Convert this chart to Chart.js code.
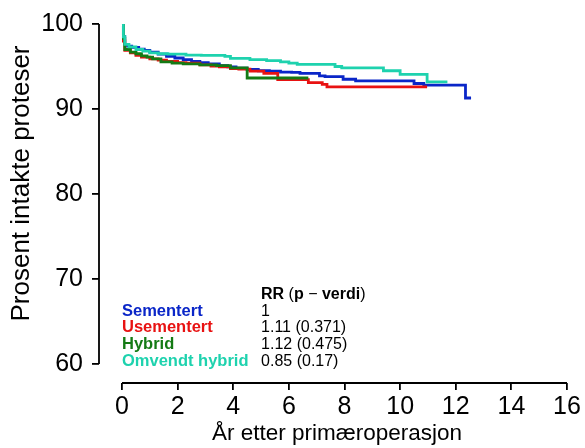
<!DOCTYPE html>
<html>
<head>
<meta charset="utf-8">
<script src="https://cdn.jsdelivr.net/npm/chart.js@4.4.1/dist/chart.umd.min.js"></script>
<style>
  html, body { margin: 0; padding: 0; background: #fff; }
</style>
</head>
<body>
<canvas id="km" width="585" height="448"></canvas>
<script>
const FONT = '"Liberation Sans", Arial, Helvetica, sans-serif';

// group names and the risk ratio column of the legend
const groups = ['Sementert', 'Usementert', 'Hybrid', 'Omvendt hybrid'];
const rrText = ['1', '1.11 (0.371)', '1.12 (0.475)', '0.85 (0.17)'];

// Kaplan-Meier steps (years, percent intact)
const sementertT = [0, 0.05, 0.1, 0.2, 0.35, 0.6, 0.8, 1.0, 1.3, 1.6, 1.9, 2.2, 2.5, 2.8, 3.1, 3.5, 3.8, 4.1, 4.5, 4.9, 5.3, 5.7, 6.1, 6.4, 7.1, 7.3, 7.95, 8.4, 10.5, 10.85, 12.35, 12.55];
const sementertS = [100, 98.5, 97.6, 97.4, 97.25, 97.05, 96.9, 96.7, 96.45, 96.2, 96.0, 95.8, 95.6, 95.45, 95.3, 95.1, 94.95, 94.8, 94.65, 94.5, 94.45, 94.35, 94.3, 94.2, 93.9, 93.8, 93.5, 93.3, 93.0, 92.8, 91.3, 91.3];

const usementertT = [0, 0.05, 0.1, 0.3, 0.5, 0.7, 1.0, 1.3, 1.6, 2.0, 2.3, 2.8, 3.2, 3.5, 3.9, 4.2, 4.6, 5.1, 5.6, 6.7, 7.2, 7.37, 10.97];
const usementertS = [100, 98, 96.9, 96.6, 96.3, 96.1, 95.9, 95.75, 95.6, 95.45, 95.4, 95.2, 95.05, 94.95, 94.75, 94.7, 94.45, 94.2, 93.45, 93.1, 92.9, 92.6, 92.6];

const hybridT = [0, 0.05, 0.1, 0.3, 0.5, 0.7, 0.9, 1.1, 1.4, 1.8, 2.2, 2.8, 3.4, 3.9, 4.5, 6.7];
const hybridS = [100, 98.3, 97.0, 96.7, 96.5, 96.25, 96.1, 95.9, 95.55, 95.4, 95.3, 95.2, 95.1, 94.85, 93.65, 93.65];

const omvendtT = [0, 0.05, 0.1, 0.25, 0.5, 0.75, 1.0, 1.3, 1.65, 2.3, 2.85, 3.7, 3.9, 4.6, 5.2, 5.7, 6.0, 6.3, 7.66, 7.9, 9.4, 10.0, 10.97, 11.7];
const omvendtS = [100, 98.5, 97.6, 97.3, 97.0, 96.8, 96.6, 96.5, 96.45, 96.35, 96.3, 96.2, 95.95, 95.8, 95.7, 95.55, 95.4, 95.25, 95.0, 94.85, 94.5, 94.07, 93.2, 93.2];

const xTicks = [0, 2, 4, 6, 8, 10, 12, 14, 16];
const yTicks = [60, 70, 80, 90, 100];

const xTitle = 'År etter primæroperasjon';
const yTitle = 'Prosent intakte proteser';

const colors = ['#0a26c8', '#e81212', '#147a14', '#1ed2ae'];

function toPoints(t, s) {
  return t.map((x, i) => ({ x: x, y: s[i] }));
}

const series = [
  toPoints(sementertT, sementertS),
  toPoints(usementertT, usementertS),
  toPoints(hybridT, hybridS),
  toPoints(omvendtT, omvendtS)
];

// R style detached axes: lines only between first and last tick, plus titles
const axisLines = {
  id: 'axisLines',
  afterDraw(chart) {
    const { ctx, chartArea, scales: { x, y } } = chart;
    ctx.save();
    ctx.strokeStyle = '#000';
    ctx.lineWidth = 1.8;
    ctx.beginPath();
    ctx.moveTo(chartArea.left, y.getPixelForValue(yTicks[0]));
    ctx.lineTo(chartArea.left, y.getPixelForValue(yTicks[yTicks.length - 1]));
    ctx.moveTo(x.getPixelForValue(xTicks[0]), chartArea.bottom);
    ctx.lineTo(x.getPixelForValue(xTicks[xTicks.length - 1]), chartArea.bottom);
    ctx.stroke();

    ctx.fillStyle = '#000';
    ctx.textAlign = 'center';
    ctx.textBaseline = 'middle';
    ctx.font = '22.5px ' + FONT;
    ctx.fillText(xTitle, (chartArea.left + chartArea.right) / 2 + 4, chart.height - 14);

    ctx.translate(22, (chartArea.top + chartArea.bottom) / 2 - 20);
    ctx.rotate(-Math.PI / 2);
    ctx.font = '26px ' + FONT;
    ctx.fillText(yTitle, 0, 0);
    ctx.restore();
  }
};

// legend as a little table in the lower left
const rrTable = {
  id: 'rrTable',
  afterDraw(chart) {
    const { ctx, scales: { x, y } } = chart;
    const col1 = x.getPixelForValue(0);
    const col2 = x.getPixelForValue(5);
    const lastRow = y.getPixelForValue(60) - 3;
    const step = 16.6;
    ctx.save();
    ctx.textBaseline = 'middle';
    ctx.textAlign = 'left';

    // header: RR (p - verdi)
    let hx = col2;
    const hy = lastRow - step * 4;
    const parts = [['RR ', 'bold'], ['(', 'normal'], ['p', 'bold'], [' \u2212 ', 'normal'], ['verdi', 'bold'], [')', 'normal']];
    ctx.fillStyle = '#000';
    parts.forEach(([txt, w]) => {
      ctx.font = w + ' 16px ' + FONT;
      ctx.fillText(txt, hx, hy);
      hx += ctx.measureText(txt).width;
    });

    groups.forEach((g, i) => {
      const ry = lastRow - step * (3 - i);
      ctx.font = 'bold 16.5px ' + FONT;
      ctx.fillStyle = colors[i];
      ctx.fillText(g, col1, ry);
      ctx.font = '16px ' + FONT;
      ctx.fillStyle = '#000';
      ctx.fillText(rrText[i], col2, ry);
    });
    ctx.restore();
  }
};

new Chart(document.getElementById('km'), {
  type: 'line',
  data: {
    datasets: groups.map((g, i) => ({
      label: g,
      data: series[i],
      borderColor: colors[i],
      borderWidth: 2.8,
      pointRadius: 0,
      stepped: true,
      fill: false,
      order: 3 - i
    }))
  },
  options: {
    responsive: false,
    animation: false,
    layout: { padding: { top: 22, right: 18, bottom: 0, left: 0 } },
    plugins: { legend: { display: false }, tooltip: { enabled: false } },
    scales: {
      x: {
        type: 'linear',
        min: -0.827,
        max: 16,
        afterBuildTicks: s => { s.ticks = xTicks.map(v => ({ value: v })); },
        afterFit: s => { s.height = 65; },
        ticks: { font: { size: 25, family: FONT }, color: '#000', padding: 2, maxRotation: 0, autoSkip: false },
        grid: { drawOnChartArea: false, drawTicks: true, tickLength: 7, color: '#000', lineWidth: 1.8 },
        border: { display: false }
      },
      y: {
        type: 'linear',
        min: 57.78,
        max: 100,
        afterBuildTicks: s => { s.ticks = yTicks.map(v => ({ value: v })); },
        afterFit: s => { s.width = 99; },
        ticks: { font: { size: 25, family: FONT }, color: '#000', padding: 9 },
        grid: { drawOnChartArea: false, drawTicks: true, tickLength: 7, color: '#000', lineWidth: 1.8 },
        border: { display: false }
      }
    }
  },
  plugins: [axisLines, rrTable]
});
</script>
</body>
</html>
